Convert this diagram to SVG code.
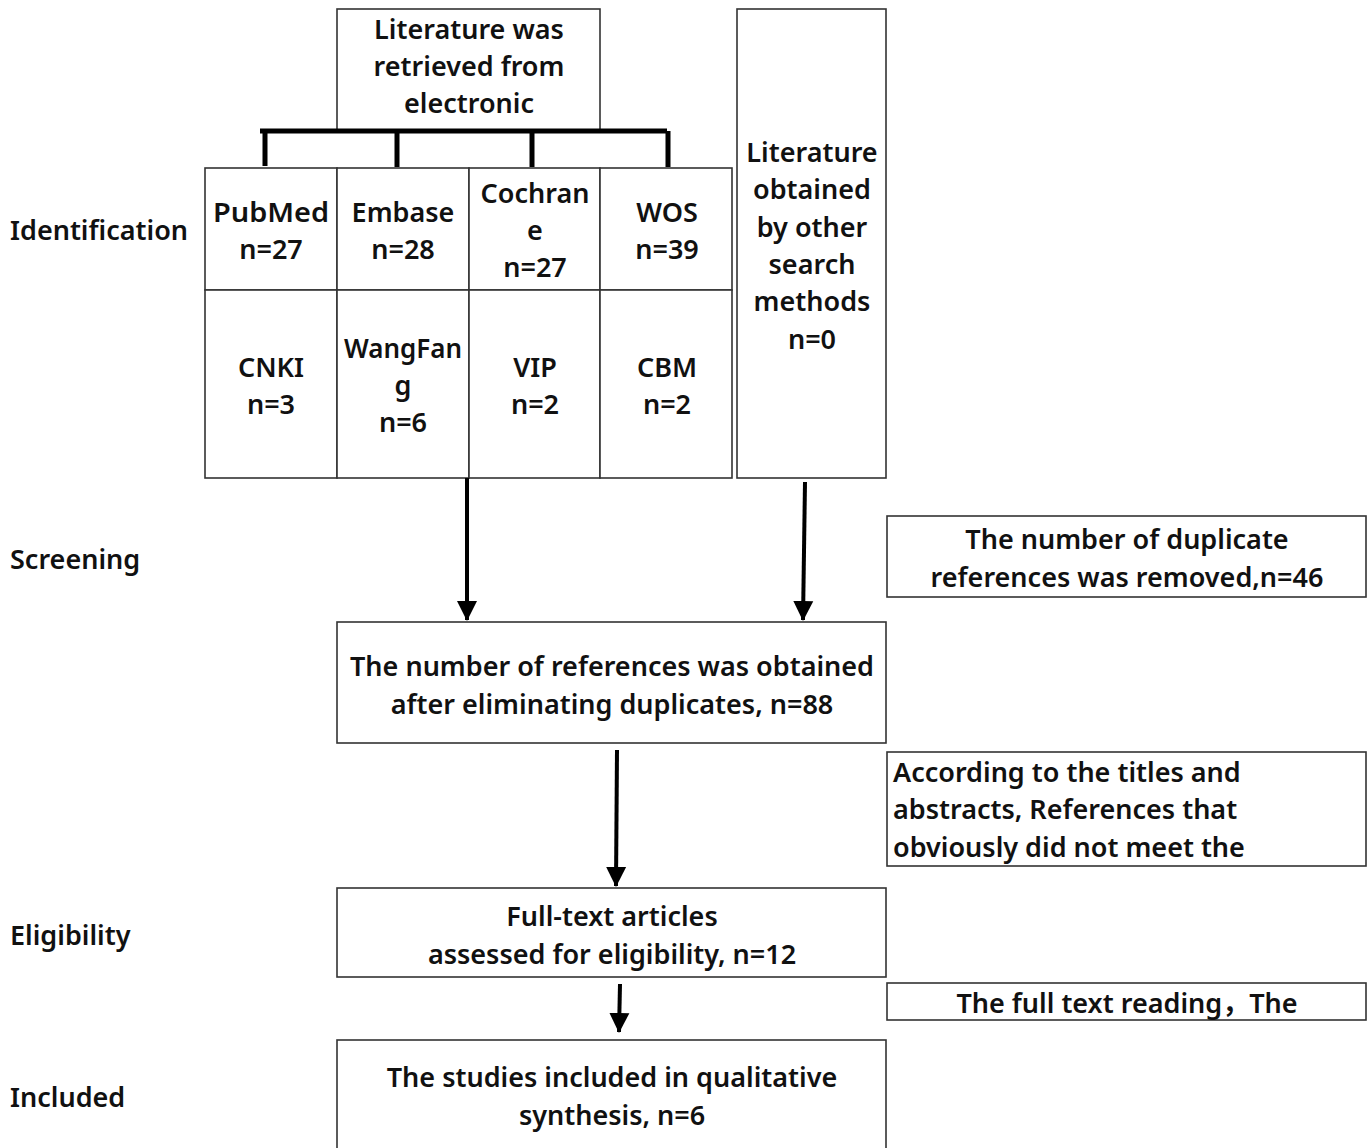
<svg xmlns="http://www.w3.org/2000/svg" width="1368" height="1148" viewBox="0 0 1368 1148">
<defs>
<marker id="ah" markerWidth="20" markerHeight="22" refX="19" refY="11" orient="auto" markerUnits="userSpaceOnUse">
<path d="M0,1 L20,11 L0,21 z" fill="#000"/>
</marker>
<style>
text{font-family:"Noto Sans","Noto Sans CJK SC",sans-serif;font-size:27px;fill:#111;font-weight:600}
.c{text-anchor:middle}
.box{fill:#fff;stroke:#333;stroke-width:1.6}
.arr{stroke:#000;stroke-width:4;fill:none;marker-end:url(#ah)}
.br{stroke:#000;stroke-width:5;fill:none}
</style>
</defs>
<rect width="1368" height="1148" fill="#fff"/>
<g id="stage-labels">
<text x="10" y="240">Identification</text>
<text x="10" y="569">Screening</text>
<text x="10" y="945">Eligibility</text>
<text x="10" y="1107">Included</text>
</g>
<g id="n-electronic">
<rect class="box" x="337" y="9" width="263" height="121"/>
<text class="c" x="469" y="39">Literature was</text>
<text class="c" x="469" y="76">retrieved from</text>
<text class="c" x="469" y="113">electronic</text>
</g>
<g id="n-pubmed"><rect class="box" x="205" y="168" width="132" height="122"/><text class="c" x="271" y="222" textLength="116" lengthAdjust="spacingAndGlyphs">PubMed</text><text class="c" x="271" y="259">n=27</text></g>
<g id="n-embase"><rect class="box" x="337" y="168" width="132" height="122"/><text class="c" x="403" y="222">Embase</text><text class="c" x="403" y="259">n=28</text></g>
<g id="n-cochrane"><rect class="box" x="469" y="168" width="131" height="122"/><text class="c" x="535" y="203">Cochran</text><text class="c" x="535" y="240">e</text><text class="c" x="535" y="277">n=27</text></g>
<g id="n-wos"><rect class="box" x="600" y="168" width="132" height="122"/><text class="c" x="667" y="222">WOS</text><text class="c" x="667" y="259">n=39</text></g>
<g id="n-cnki"><rect class="box" x="205" y="290" width="132" height="188"/><text class="c" x="271" y="377">CNKI</text><text class="c" x="271" y="414">n=3</text></g>
<g id="n-wangfang"><rect class="box" x="337" y="290" width="132" height="188"/><text class="c" x="403" y="358" textLength="118" lengthAdjust="spacingAndGlyphs">WangFan</text><text class="c" x="403" y="395">g</text><text class="c" x="403" y="432">n=6</text></g>
<g id="n-vip"><rect class="box" x="469" y="290" width="131" height="188"/><text class="c" x="535" y="377">VIP</text><text class="c" x="535" y="414">n=2</text></g>
<g id="n-cbm"><rect class="box" x="600" y="290" width="132" height="188"/><text class="c" x="667" y="377">CBM</text><text class="c" x="667" y="414">n=2</text></g>
<g id="n-other">
<rect class="box" x="737" y="9" width="149" height="469"/>
<text class="c" x="812" y="162">Literature</text>
<text class="c" x="812" y="199">obtained</text>
<text class="c" x="812" y="237">by other</text>
<text class="c" x="812" y="274">search</text>
<text class="c" x="812" y="311">methods</text>
<text class="c" x="812" y="349">n=0</text>
</g>
<g id="n-duplicates">
<rect class="box" x="887" y="516" width="479" height="81"/>
<text class="c" x="1127" y="549">The number of duplicate</text>
<text class="c" x="1127" y="587">references was removed,n=46</text>
</g>
<g id="n-obtained">
<rect class="box" x="337" y="622" width="549" height="121"/>
<text class="c" x="612" y="676">The number of references was obtained</text>
<text class="c" x="612" y="714">after eliminating duplicates, n=88</text>
</g>
<g id="n-titles">
<rect class="box" x="887" y="752" width="479" height="114"/>
<text x="893" y="782">According to the titles and</text>
<text x="893" y="819">abstracts, References that</text>
<text x="893" y="857">obviously did not meet the</text>
</g>
<g id="n-fulltext">
<rect class="box" x="337" y="888" width="549" height="89"/>
<text class="c" x="612" y="926">Full-text articles</text>
<text class="c" x="612" y="964">assessed for eligibility, n=12</text>
</g>
<g id="n-reading">
<rect class="box" x="887" y="983" width="479" height="37"/>
<text class="c" x="1127" y="1013">The full text reading，The</text>
</g>
<g id="n-included">
<rect class="box" x="337" y="1040" width="549" height="120"/>
<text class="c" x="612" y="1087">The studies included in qualitative</text>
<text class="c" x="612" y="1125">synthesis, n=6</text>
</g>
<g id="connectors">
<path class="br" d="M260,131 H667"/>
<path class="br" d="M265,131 V166 M397,131 V167 M532,131 V167 M668,131 V167"/>
<path class="arr" d="M467,478 V620"/>
<path class="arr" d="M805,482 L803,620"/>
<path class="arr" d="M617,750 L616,886"/>
<path class="arr" d="M620,984 L619,1032"/>
</g>
</svg>
